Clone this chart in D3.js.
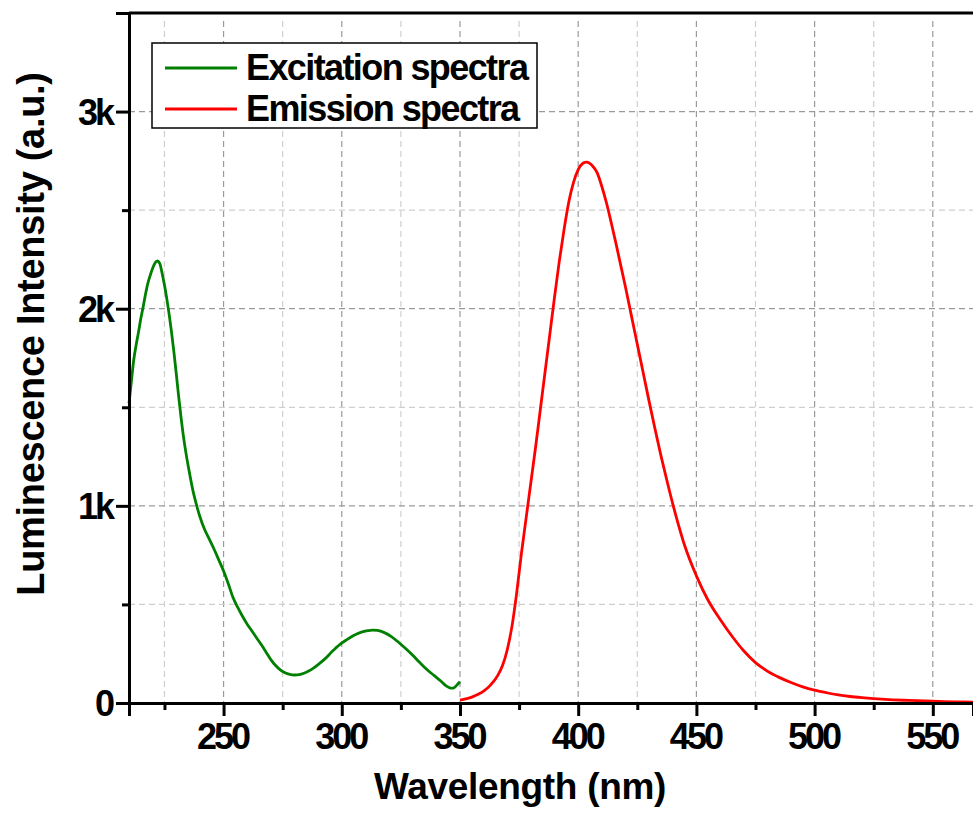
<!DOCTYPE html>
<html>
<head>
<meta charset="utf-8">
<script src="https://cdn.jsdelivr.net/npm/d3@7"></script>
<style>
  html, body { margin: 0; padding: 0; background: #fff; }
  svg { display: block; font-family: Arial, "Liberation Sans", sans-serif; font-weight: bold; }
</style>
</head>
<body>
<svg id="chart" width="973" height="813"></svg>
<script>
// Excitation / emission spectra
const excitationSpectrum = [
  [210, 1520], [211, 1630], [212, 1740], [213, 1815], [214, 1880], [215, 1950],
  [216, 2010], [217, 2075], [218, 2130], [219, 2170], [220, 2205], [221, 2232],
  [222, 2242], [223, 2230], [224, 2180], [225, 2120], [226, 2050], [227, 1970],
  [228, 1880], [229, 1780], [230, 1670], [231, 1555], [232, 1450], [233, 1355],
  [234, 1275], [235, 1205], [236, 1140], [237, 1080], [238, 1030], [239, 985],
  [240, 945], [242, 880], [244, 830], [246, 780], [248, 725], [250, 670],
  [252, 605], [254, 535], [256, 485], [258, 440], [260, 400], [262, 365],
  [264, 330], [266, 295], [268, 258], [270, 220], [272, 190], [274, 168],
  [276, 153], [278, 145], [280, 142], [282, 144], [284, 151], [286, 162],
  [288, 177], [290, 195], [293, 225], [296, 262], [299, 295], [302, 320],
  [305, 342], [308, 358], [311, 367], [313, 370], [315, 368], [318, 357],
  [321, 337], [324, 308], [327, 276], [330, 242], [333, 205], [336, 170],
  [339, 140], [342, 110], [344, 88], [346, 76], [347, 75], [348.1, 84],
  [349, 95], [350, 108]
];

const emissionSpectrum = [
  [350, 15], [355, 30], [360, 60], [363, 92], [366, 140], [368, 190], [370, 270],
  [372, 390], [374, 560], [376, 760], [378, 940], [380, 1120], [382, 1300],
  [384, 1490], [386, 1680], [388, 1870], [390, 2060], [392, 2240], [394, 2400],
  [396, 2540], [398, 2640], [400, 2705], [402, 2738], [403.5, 2744], [406, 2725],
  [408, 2690], [410, 2620], [412, 2535], [414, 2435], [416, 2330], [418, 2220],
  [420, 2110], [422.5, 1965], [425, 1820], [427.5, 1675], [430, 1530],
  [432.5, 1390], [435, 1255], [437.5, 1130], [440, 1010], [442.5, 900],
  [445, 800], [450, 645], [455, 520], [460, 425], [465, 340], [470, 265],
  [475, 205], [480, 162], [485, 130], [490, 104], [495, 82], [500, 65],
  [505, 52], [510, 41], [515, 33], [520, 27], [530, 18], [540, 13], [550, 9],
  [560, 6], [567, 4]
];

const xMajorTicks = [250, 300, 350, 400, 450, 500, 550];
const xMinorTicks = [225, 275, 325, 375, 425, 475, 525];
const yMajorTicks = [0, 1000, 2000, 3000];
const yMinorTicks = [500, 1500, 2500, 3500];
const yTickLabels = ["0", "1k", "2k", "3k"];

const seriesNames = ["Excitation spectra", "Emission spectra"];
const seriesColors = ["#008000", "#ff0000"];

const svg = d3.select("#chart");

const plot = { left: 129, right: 973, top: 13, bottom: 703 };

const x = d3.scaleLinear().domain([210, 567]).range([plot.left, plot.right]);
const y = d3.scaleLinear().domain([0, 3500]).range([plot.bottom, plot.top]);

// Grid (dashed) — majors darker than minors
const grid = svg.append("g");
grid.selectAll(".vminor")
  .data(xMinorTicks)
  .join("line")
  .attr("x1", d => x(d)).attr("x2", d => x(d))
  .attr("y1", plot.top + 8).attr("y2", plot.bottom)
  .attr("stroke", "#cfcfcf").attr("stroke-width", 1.2)
  .attr("stroke-dasharray", "6,4");
grid.selectAll(".vmajor")
  .data(xMajorTicks)
  .join("line")
  .attr("x1", d => x(d)).attr("x2", d => x(d))
  .attr("y1", plot.top + 8).attr("y2", plot.bottom)
  .attr("stroke", "#9a9a9a").attr("stroke-width", 1.2)
  .attr("stroke-dasharray", "6,4");
grid.selectAll(".hminor")
  .data(yMinorTicks.filter(d => d < 3500))
  .join("line")
  .attr("x1", plot.left).attr("x2", plot.right)
  .attr("y1", d => y(d)).attr("y2", d => y(d))
  .attr("stroke", "#cfcfcf").attr("stroke-width", 1.2)
  .attr("stroke-dasharray", "6,4");
grid.selectAll(".hmajor")
  .data(yMajorTicks.filter(d => d > 0))
  .join("line")
  .attr("x1", plot.left).attr("x2", plot.right)
  .attr("y1", d => y(d)).attr("y2", d => y(d))
  .attr("stroke", "#9a9a9a").attr("stroke-width", 1.2)
  .attr("stroke-dasharray", "6,4");

// Spectra lines
const line = d3.line()
  .x(d => x(d[0]))
  .y(d => y(d[1]))
  .curve(d3.curveMonotoneX);

[excitationSpectrum, emissionSpectrum].forEach((data, i) => {
  svg.append("path")
    .datum(data)
    .attr("fill", "none")
    .attr("stroke", seriesColors[i])
    .attr("stroke-width", 2.8)
    .attr("stroke-linejoin", "round")
    .attr("d", line);
});

// Axes
const xAxis = svg.append("g")
  .attr("transform", `translate(0,${plot.bottom})`)
  .call(d3.axisBottom(x).tickValues(xMajorTicks).tickSize(13).tickFormat(d3.format("d")));
svg.append("g")
  .attr("transform", `translate(0,${plot.bottom})`)
  .call(d3.axisBottom(x).tickValues(xMinorTicks).tickSize(7).tickFormat(""))
  .call(g => g.select(".domain").remove());

const yAxis = svg.append("g")
  .attr("transform", `translate(${plot.left},0)`)
  .call(d3.axisLeft(y).tickValues(yMajorTicks).tickSize(13).tickFormat((d, i) => yTickLabels[i]));
svg.append("g")
  .attr("transform", `translate(${plot.left},0)`)
  .call(d3.axisLeft(y).tickValues(yMinorTicks).tickSize(7).tickFormat(""))
  .call(g => g.select(".domain").remove());

svg.selectAll(".tick line").attr("stroke", "#000").attr("stroke-width", 3);
svg.selectAll(".domain").attr("stroke", "#000").attr("stroke-width", 3);

xAxis.selectAll(".tick text")
  .attr("y", 46).attr("dy", null)
  .attr("dx", "-1.5px")
  .attr("font-size", 36)
  .attr("font-family", "Arial, 'Liberation Sans', sans-serif")
  .attr("font-weight", "bold")
  .attr("letter-spacing", "-3px")
  .attr("fill", "#000");

yAxis.selectAll(".tick text")
  .attr("x", -17).attr("dy", "0.36em")
  .attr("font-size", 36)
  .attr("font-family", "Arial, 'Liberation Sans', sans-serif")
  .attr("font-weight", "bold")
  .attr("letter-spacing", "-3px")
  .attr("fill", "#000");

// Top frame line
svg.append("line")
  .attr("x1", plot.left).attr("x2", plot.right)
  .attr("y1", plot.top).attr("y2", plot.top)
  .attr("stroke", "#000").attr("stroke-width", 3);

// Axis titles
svg.append("text")
  .attr("x", 520).attr("y", 799)
  .attr("text-anchor", "middle")
  .attr("font-size", 37)
  .attr("letter-spacing", "-0.3px")
  .attr("fill", "#000")
  .text("Wavelength (nm)");

svg.append("text")
  .attr("transform", "translate(44,334) rotate(-90)")
  .attr("text-anchor", "middle")
  .attr("font-size", 38)
  .attr("letter-spacing", "-0.3px")
  .attr("fill", "#000")
  .text("Luminescence Intensity (a.u.)");

// Legend
const legend = svg.append("g").attr("transform", "translate(152,43)");
legend.append("rect")
  .attr("width", 385).attr("height", 85)
  .attr("fill", "#fff")
  .attr("stroke", "#000").attr("stroke-width", 1.5);

const legendRows = [25, 66];
seriesNames.forEach((name, i) => {
  legend.append("line")
    .attr("x1", 13).attr("x2", 85)
    .attr("y1", legendRows[i]).attr("y2", legendRows[i])
    .attr("stroke", seriesColors[i]).attr("stroke-width", 2.8);
  legend.append("text")
    .attr("x", 94).attr("y", legendRows[i] + 12)
    .attr("font-size", 36)
    .attr("letter-spacing", "-1.6px")
    .attr("fill", "#000")
    .text(name);
});
</script>
</body>
</html>
